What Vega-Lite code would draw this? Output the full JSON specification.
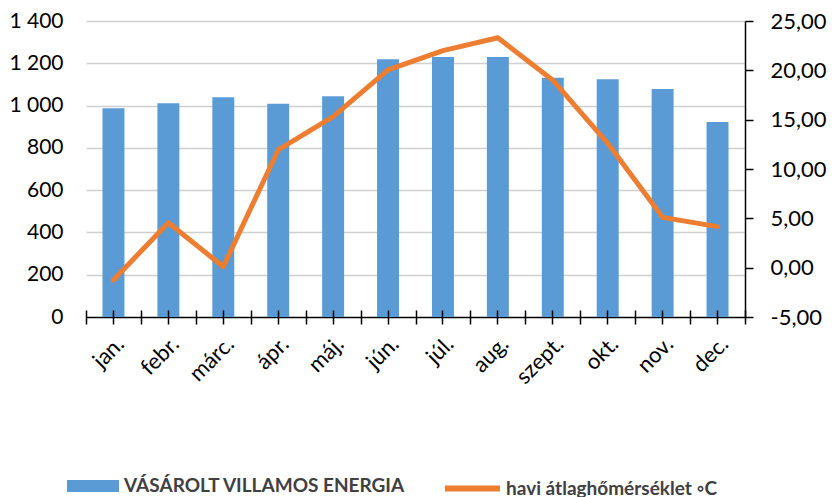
{
  "$schema": "https://vega.github.io/schema/vega-lite/v6.json",
  "autosize": {"type": "none"},
  "width": 659,
  "height": 296,
  "padding": {"left": 86, "top": 21, "right": 90, "bottom": 180},
  "background": "white",
  "config": {
    "view": {"stroke": null},
    "font": "Lato",
    "axis": {"labelFont": "Lato", "labelFontSize": 21, "labelColor": "#000000", "titleFont": "Lato"},
    "legend": {"labelFont": "Lato"}
  },
  "data": {
    "values": [
      {"month": "jan.", "energy": 987, "temp": -1.25},
      {"month": "febr.", "energy": 1011, "temp": 4.56},
      {"month": "márc.", "energy": 1039, "temp": 0.1},
      {"month": "ápr.", "energy": 1009, "temp": 11.93},
      {"month": "máj.", "energy": 1044, "temp": 15.3},
      {"month": "jún.", "energy": 1219, "temp": 20.04},
      {"month": "júl.", "energy": 1230, "temp": 22.0},
      {"month": "aug.", "energy": 1230, "temp": 23.3},
      {"month": "szept.", "energy": 1131, "temp": 19.0},
      {"month": "okt.", "energy": 1124, "temp": 12.6},
      {"month": "nov.", "energy": 1078, "temp": 5.1},
      {"month": "dec.", "energy": 922, "temp": 4.16}
    ]
  },
  "layer": [
    {
      "mark": {"type": "bar", "color": "#5B9BD5", "width": {"band": 0.4}},
      "encoding": {
        "x": {
          "field": "month", "type": "nominal", "sort": null,
          "scale": {"paddingInner": 0, "paddingOuter": 0},
          "axis": {
            "title": null, "orient": "bottom", "labelAngle": -45, "domain": false, "offset": -7,
            "tickColor": "#000000", "tickSize": 14, "tickWidth": 1.5,
            "labelPadding": 9, "grid": false, "labelFontSize": 22, "zindex": 1
          }
        },
        "y": {
          "field": "energy", "type": "quantitative",
          "scale": {"domain": [0, 1400], "nice": false},
          "axis": {
            "title": null, "values": [0, 200, 400, 600, 800, 1000, 1200, 1400],
            "labelExpr": "replace(format(datum.value, ','), ',', ' ')",
            "domain": false, "ticks": false, "labelPadding": 23,
            "grid": true,
            "gridColor": {"condition": {"test": "datum.value === 0", "value": "#000000"}, "value": "#D0D0D0"},
            "gridWidth": 1.5
          }
        },
        "fill": {
          "datum": "VÁSÁROLT VILLAMOS ENERGIA",
          "scale": {"range": ["#5B9BD5"]},
          "legend": {
            "title": null, "orient": "none", "legendX": -19, "legendY": 439,
            "symbolType": "M-1,-0.23H1V0.23H-1Z", "symbolSize": 2704,
            "symbolStrokeWidth": 0, "labelFontSize": 19, "labelFontWeight": "bold",
            "labelColor": "#404040", "labelOffset": 5, "labelLimit": 500
          }
        }
      }
    },
    {
      "mark": {"type": "line", "color": "#ED7D31", "strokeWidth": 5, "strokeJoin": "round", "strokeCap": "round"},
      "encoding": {
        "x": {
          "field": "month", "type": "nominal", "sort": null,
          "axis": {
            "title": null, "orient": "bottom", "labels": false, "domain": false, "offset": -7,
            "tickColor": "#000000", "tickSize": 14, "tickWidth": 1.5,
            "tickBand": "extent", "grid": false, "zindex": 1
          }
        },
        "y": {
          "field": "temp", "type": "quantitative",
          "scale": {"domain": [-5, 25], "nice": false},
          "axis": {
            "title": null, "orient": "right", "values": [-5, 0, 5, 10, 15, 20, 25],
            "labelExpr": "replace(replace(format(datum.value, '.2f'), '.', ','), '\u2212', '-')",
            "domainColor": "#000000", "domainWidth": 1.5, "tickColor": "#000000",
            "tickSize": 8, "tickWidth": 1.5, "labelPadding": 17, "grid": false,
            "labelFontSize": 22
          }
        },
        "stroke": {
          "datum": "havi átlaghőmérséklet ◦C",
          "scale": {"range": ["#ED7D31"]},
          "legend": {
            "title": null, "orient": "none", "legendX": 356, "legendY": 437,
            "symbolType": "stroke", "symbolSize": 3025, "symbolStrokeWidth": 6,
            "labelFontSize": 19, "labelFontWeight": "bold", "labelColor": "#404040",
            "labelOffset": 3, "labelLimit": 500
          }
        }
      }
    }
  ],
  "resolve": {
    "scale": {"y": "independent", "fill": "independent", "stroke": "independent"},
    "axis": {"x": "independent"}
  }
}
